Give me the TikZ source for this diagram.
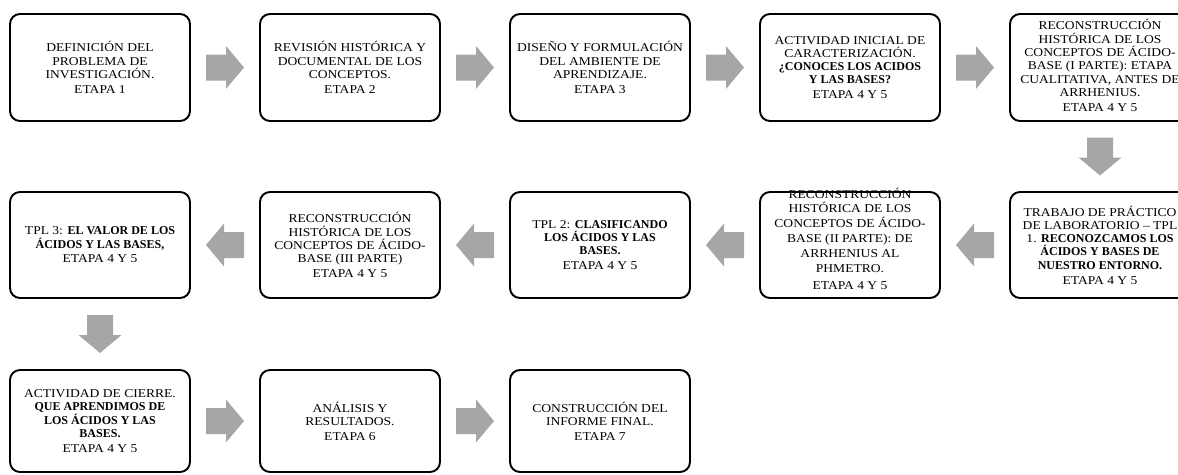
\documentclass[tikz,border=0pt]{standalone}
\usepackage{fontspec}
\setmainfont{Liberation Serif}[FakeStretch=1.13]
\newfontfamily\boldserif{Liberation Serif Bold}
\usetikzlibrary{calc}
\definecolor{arrowgray}{HTML}{A6A6A6}
\tikzset{
  stagebox/.style={draw=black, line width=1.9pt, rounded corners=10pt, minimum width=180pt, inner sep=0pt},
  rowa/.style={minimum height=107pt},
  rowb/.style={minimum height=106pt},
  rowc/.style={minimum height=102pt},
  stagetext/.style={align=center, font=\fontsize{12pt}{13.3pt}\selectfont, inner sep=0pt},
  loosetext/.style={align=center, font=\fontsize{12pt}{14.8pt}\selectfont, inner sep=0pt},
  blockarrow/.pic={\fill[arrowgray] (-19,-13) -- (1,-13) -- (1,-21.5) -- (19,0) -- (1,21.5) -- (1,13) -- (-19,13) -- cycle;}
}
\newcommand{\etp}[1]{\\[1.5pt]ETAPA #1}
\newcommand{\bt}[1]{{\boldserif #1}}
\begin{document}
\begin{tikzpicture}[x=1pt,y=1pt]
\useasboundingbox (0,0) rectangle (1178,-474);
% row 1
\node[stagebox,rowa] (b1) at (100,-67.5) {};
\node[stagebox,rowa] (b2) at (350,-67.5) {};
\node[stagebox,rowa] (b3) at (600,-67.5) {};
\node[stagebox,rowa] (b4) at (850,-67.5) {};
\node[stagebox,rowa] (b5) at (1100,-67.5) {};
% row 2
\node[stagebox,rowb] (b6) at (1100,-245) {};
\node[stagebox,rowb] (b7) at (850,-245) {};
\node[stagebox,rowb] (b8) at (600,-245) {};
\node[stagebox,rowb] (b9) at (350,-245) {};
\node[stagebox,rowb] (b10) at (100,-245) {};
% row 3
\node[stagebox,rowc] (b11) at (100,-421) {};
\node[stagebox,rowc] (b12) at (350,-421) {};
\node[stagebox,rowc] (b13) at (600,-421) {};
% texts
\node[stagetext] (t1) at (b1) {DEFINICIÓN DEL\\PROBLEMA DE\\INVESTIGACIÓN.\etp{1}};
\node[stagetext] (t2) at (b2) {REVISIÓN HISTÓRICA Y\\DOCUMENTAL DE LOS\\CONCEPTOS.\etp{2}};
\node[stagetext] (t3) at (b3) {DISEÑO Y FORMULACIÓN\\DEL AMBIENTE DE\\APRENDIZAJE.\etp{3}};
\node[stagetext] (t4) at (b4) {ACTIVIDAD INICIAL DE\\CARACTERIZACIÓN.\\\bt{¿CONOCES LOS ACIDOS}\\\bt{Y LAS BASES?}\etp{4 Y 5}};
\node[stagetext] (t5) at ([yshift=2pt]b5.center) {RECONSTRUCCIÓN\\HISTÓRICA DE LOS\\CONCEPTOS DE ÁCIDO-\\BASE (I PARTE): ETAPA\\CUALITATIVA, ANTES DE\\ARRHENIUS.\etp{4 Y 5}};
\node[stagetext] (t6) at (b6) {TRABAJO DE PRÁCTICO\\DE LABORATORIO – TPL\\1. \bt{RECONOZCAMOS LOS}\\\bt{ÁCIDOS Y BASES DE}\\\bt{NUESTRO ENTORNO.}\etp{4 Y 5}};
\node[loosetext] (t7) at ([yshift=6pt]b7.center) {RECONSTRUCCIÓN\\HISTÓRICA DE LOS\\CONCEPTOS DE ÁCIDO-\\BASE (II PARTE): DE\\ARRHENIUS AL\\PHMETRO.\\[3pt]ETAPA 4 Y 5};
\node[stagetext] (t8) at (b8) {TPL 2: \bt{CLASIFICANDO}\\\bt{LOS ÁCIDOS Y LAS}\\\bt{BASES.}\etp{4 Y 5}};
\node[stagetext] (t9) at (b9) {RECONSTRUCCIÓN\\HISTÓRICA DE LOS\\CONCEPTOS DE ÁCIDO-\\BASE (III PARTE)\etp{4 Y 5}};
\node[stagetext] (t10) at (b10) {TPL 3: \bt{EL VALOR DE LOS}\\\bt{ÁCIDOS Y LAS BASES,}\etp{4 Y 5}};
\node[stagetext] (t11) at (b11) {ACTIVIDAD DE CIERRE.\\\bt{QUE APRENDIMOS DE}\\\bt{LOS ÁCIDOS Y LAS}\\\bt{BASES.}\etp{4 Y 5}};
\node[stagetext] (t12) at (b12) {ANÁLISIS Y\\RESULTADOS.\etp{6}};
\node[stagetext] (t13) at (b13) {CONSTRUCCIÓN DEL\\INFORME FINAL.\etp{7}};
% arrows
\pic at ($(b1.east)!0.5!(b2.west)$) {blockarrow};
\pic at ($(b2.east)!0.5!(b3.west)$) {blockarrow};
\pic at ($(b3.east)!0.5!(b4.west)$) {blockarrow};
\pic at ($(b4.east)!0.5!(b5.west)$) {blockarrow};
\pic[rotate=-90] at ($(b5.south)!0.5!(b6.north)$) {blockarrow};
\pic[rotate=180] at ($(b6.west)!0.5!(b7.east)$) {blockarrow};
\pic[rotate=180] at ($(b7.west)!0.5!(b8.east)$) {blockarrow};
\pic[rotate=180] at ($(b8.west)!0.5!(b9.east)$) {blockarrow};
\pic[rotate=180] at ($(b9.west)!0.5!(b10.east)$) {blockarrow};
\pic[rotate=-90] at ($(b10.south)!0.5!(b11.north)$) {blockarrow};
\pic at ($(b11.east)!0.5!(b12.west)$) {blockarrow};
\pic at ($(b12.east)!0.5!(b13.west)$) {blockarrow};
\end{tikzpicture}
\end{document}
